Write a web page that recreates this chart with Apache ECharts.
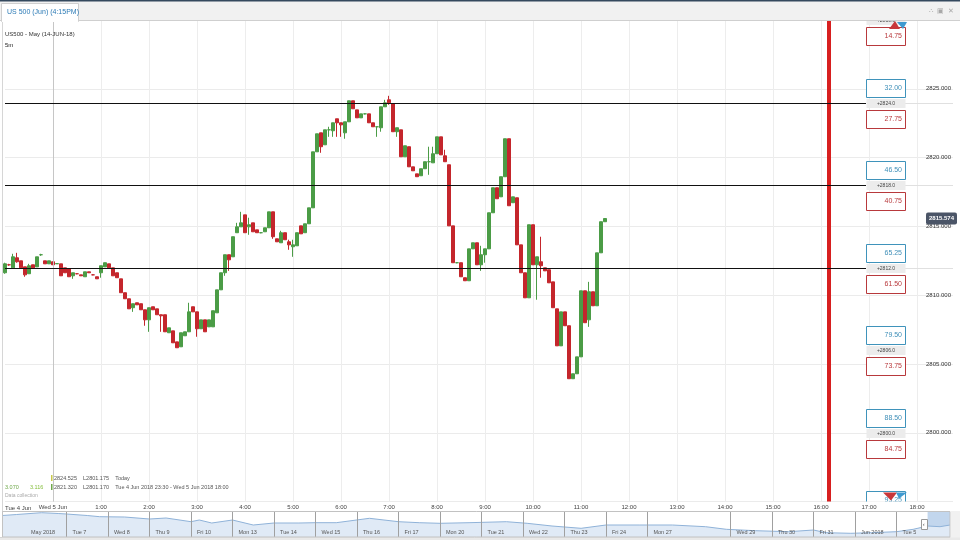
<!DOCTYPE html>
<html><head><meta charset="utf-8">
<script src="https://cdn.jsdelivr.net/npm/echarts@6/dist/echarts.min.js"></script>
<style>html,body{margin:0;padding:0;background:#fff}#c{width:960px;height:540px}</style>
</head><body><div id="c"></div>
<script>
// ---------- data ----------
const firstSlot = '23:00';          // first 5m slot (Tue 4 Jun)
const slotCount = 238;              // 5-minute slots shown on the axis
const dayBreak = '0:00';            // Wed 5 Jun
const closeTime = '16:10';          // session close marker
const ohlc = [ // [open, close, low, high]
[2811.63,2812.28,2811.56,2812.36],[2812.21,2812.21,2812.14,2812.28],[2811.99,2812.79,2811.99,2813.01],[2812.72,2812.43,2812.36,2813.08],
[2812.50,2811.99,2811.99,2812.50],[2812.06,2811.48,2811.34,2812.06],[2811.56,2812.14,2811.56,2812.28],[2812.21,2811.99,2811.99,2812.21],
[2812.06,2812.79,2812.06,2812.79],[2812.94,2812.94,2812.86,2813.01],[2812.50,2812.28,2812.28,2812.50],[2812.28,2812.50,2812.28,2812.50],
[2812.43,2812.21,2812.21,2812.43],[2812.28,2812.30,2812.28,2812.30],[2812.28,2811.41,2811.41,2812.28],[2811.99,2811.63,2811.63,2811.99],
[2811.92,2811.34,2811.34,2811.92],[2811.41,2811.63,2811.19,2811.63],[2811.56,2811.56,2811.52,2811.60],[2811.48,2811.41,2811.41,2811.48],
[2811.34,2811.70,2811.34,2811.70],[2811.70,2811.63,2811.63,2811.70],[2811.48,2811.48,2811.45,2811.52],[2811.34,2811.19,2811.19,2811.34],
[2811.63,2812.14,2811.27,2812.14],[2812.06,2812.36,2812.06,2812.36],[2812.28,2811.99,2811.99,2812.28],[2811.99,2811.41,2811.41,2811.99],
[2811.63,2811.27,2811.27,2811.63],[2811.19,2810.18,2810.18,2811.19],[2810.18,2809.74,2809.74,2810.18],[2809.74,2809.01,2809.01,2809.74],
[2809.09,2809.38,2808.79,2809.38],[2809.45,2809.30,2809.30,2809.45],[2809.38,2808.94,2808.94,2809.38],[2808.94,2808.21,2807.78,2808.94],
[2808.21,2809.09,2807.34,2809.09],[2809.16,2808.94,2808.94,2809.16],[2809.01,2808.58,2808.58,2809.01],[2808.58,2808.50,2807.34,2808.58],
[2808.58,2807.34,2807.34,2808.58],[2807.27,2807.63,2807.27,2807.63],[2807.41,2806.54,2806.54,2807.41],[2806.61,2806.18,2806.18,2806.61],
[2806.25,2807.27,2806.25,2807.27],[2807.05,2807.34,2807.05,2807.34],[2807.34,2808.79,2807.34,2809.45],[2809.16,2808.79,2808.79,2809.16],
[2808.79,2807.56,2806.98,2808.79],[2807.56,2808.21,2807.56,2808.21],[2808.21,2807.34,2807.34,2808.21],[2807.70,2808.21,2807.70,2808.21],
[2807.70,2808.87,2807.70,2808.87],[2808.72,2810.39,2808.72,2810.39],[2810.39,2811.63,2810.39,2811.63],[2811.63,2812.94,2811.41,2812.94],
[2812.94,2812.57,2811.77,2812.94],[2812.79,2814.25,2812.79,2814.25],[2814.54,2814.97,2814.54,2815.26],[2814.97,2815.26,2814.97,2816.06],
[2815.84,2814.54,2814.54,2815.84],[2814.97,2815.12,2814.39,2815.63],[2815.26,2814.61,2814.61,2815.26],[2814.75,2814.54,2814.54,2814.75],
[2814.54,2814.54,2814.50,2814.58],[2814.61,2814.90,2814.61,2814.90],[2814.90,2816.06,2814.90,2816.06],[2816.06,2814.25,2814.10,2816.06],
[2814.10,2813.88,2813.88,2814.10],[2813.81,2814.54,2813.81,2814.68],[2814.54,2814.03,2814.03,2814.54],[2813.88,2813.66,2813.30,2814.03],
[2813.52,2813.66,2812.79,2814.03],[2813.59,2814.54,2813.59,2814.54],[2815.04,2814.46,2814.46,2815.04],[2814.54,2815.19,2814.54,2815.19],
[2815.19,2816.35,2815.19,2816.35],[2816.35,2820.42,2816.35,2820.42],[2820.42,2821.73,2820.42,2821.73],[2821.80,2820.79,2820.35,2821.80],
[2820.93,2822.02,2820.93,2822.02],[2822.02,2822.02,2821.51,2822.24],[2821.95,2822.53,2821.51,2822.53],[2822.82,2822.53,2821.51,2822.82],
[2822.53,2822.38,2821.51,2822.53],[2821.80,2822.60,2821.37,2822.60],[2822.60,2824.13,2822.60,2824.13],[2824.13,2823.55,2823.55,2824.13],
[2823.47,2822.89,2822.89,2823.47],[2822.89,2823.18,2822.89,2823.18],[2823.18,2823.18,2823.14,2823.22],[2823.18,2822.53,2822.53,2823.18],
[2822.53,2822.24,2822.24,2822.53],[2822.24,2822.24,2821.51,2822.24],[2822.17,2823.69,2821.88,2823.69],[2823.69,2823.98,2823.69,2824.20],
[2824.20,2823.98,2823.84,2824.49],[2823.91,2821.88,2821.88,2823.91],[2821.88,2822.17,2821.51,2822.17],[2822.02,2820.06,2820.06,2822.02],
[2820.06,2820.86,2820.06,2820.86],[2820.79,2819.33,2819.33,2820.79],[2819.33,2819.04,2819.04,2819.33],[2818.82,2818.61,2818.61,2818.82],
[2818.68,2819.19,2818.68,2819.19],[2819.19,2819.70,2819.19,2819.70],[2819.70,2819.70,2818.75,2820.79],[2819.62,2820.28,2819.62,2820.79],
[2820.28,2821.51,2820.28,2821.51],[2821.51,2820.20,2820.20,2821.51],[2820.13,2819.70,2819.70,2820.57],[2819.48,2815.04,2815.04,2819.48],
[2815.04,2812.36,2812.36,2815.04],[2812.36,2812.36,2812.32,2812.40],[2812.36,2811.34,2811.34,2812.36],[2811.27,2811.05,2811.05,2811.27],
[2811.05,2813.37,2811.05,2813.37],[2813.37,2813.81,2813.37,2813.81],[2813.81,2812.21,2812.21,2813.81],[2812.21,2812.94,2811.77,2813.59],
[2812.94,2813.37,2812.36,2813.37],[2813.37,2815.99,2813.37,2815.99],[2815.99,2817.81,2815.99,2817.81],[2817.81,2817.01,2817.01,2817.81],
[2817.15,2818.61,2817.15,2818.61],[2818.61,2821.37,2818.61,2821.37],[2821.37,2816.50,2816.50,2821.37],[2816.72,2817.15,2816.72,2817.15],
[2817.08,2813.66,2813.66,2817.08],[2813.66,2811.63,2811.63,2813.66],[2811.63,2809.81,2809.81,2811.63],[2809.81,2815.12,2809.81,2815.12],
[2815.12,2812.21,2812.21,2815.12],[2812.21,2812.79,2809.67,2812.79],[2812.43,2812.14,2811.27,2814.25],[2811.99,2811.77,2811.77,2811.99],
[2811.85,2810.90,2810.90,2811.85],[2810.97,2809.09,2809.09,2810.97],[2809.01,2806.32,2806.32,2809.01],[2806.32,2808.79,2806.32,2808.79],
[2808.79,2807.78,2807.78,2808.79],[2807.78,2803.93,2803.93,2807.78],[2803.93,2804.29,2803.93,2804.29],[2804.29,2805.52,2804.29,2805.52],
[2805.52,2810.32,2805.52,2810.32],[2810.32,2808.00,2808.00,2810.32],[2808.21,2810.25,2807.70,2810.97],[2810.25,2809.23,2809.23,2810.25],
[2809.23,2813.08,2809.23,2813.08],[2813.08,2815.34,2813.08,2815.34],[2815.34,2815.574,2815.34,2815.574]
];
const priceMin = 2795, priceMax = 2830, priceStep = 5;
const lineLevels = [2824, 2818, 2812];
const ladderLevels = [2830, 2824, 2818, 2812, 2806, 2800, 2794];
const ladderBid = ['', '32.00', '46.50', '65.25', '79.50', '88.50', '93.25'];
const ladderAsk = ['14.75', '27.75', '40.75', '61.50', '73.75', '84.75', ''];
// navigator (overview) : day positions and levels
const navDays = ['', 'May 2018', 'Tue 7', 'Wed 8', 'Thu 9', 'Fri 10', 'Mon 13', 'Tue 14', 'Wed 15', 'Thu 16', 'Fri 17',
  'Mon 20', 'Tue 21', 'Wed 22', 'Thu 23', 'Fri 24', 'Mon 27', '', 'Wed 29', 'Thu 30', 'Fri 31', 'Jun 2018', 'Tue 5', ''];
const navX = [0.45,0.8,1.4,1.8,2.0,2.5,2.8,3.4,4.0,4.4,5.0,5.2,5.5,6.0,6.5,7.0,7.6,8.0,8.5,9.3,10.0,10.5,11.0,11.7,12.6,13.1,13.7,14.4,15.0,15.8,16.6,17.4,17.9,18.6,19.4,20.0,20.3,20.9,21.4,22.0,22.4,22.75,23.05,23.29];
const navY = [2749,2755,2765.8,2761,2758,2749,2741.8,2740,2728,2734,2711.8,2722,2704,2722,2692,2704,2704,2705.8,2705.8,2732.2,2711.8,2705.8,2702.2,2705.8,2711.8,2702.2,2686,2672.2,2692,2692,2692,2681.8,2666.2,2657.8,2651.8,2662,2645.8,2642.2,2645.8,2651.8,2666,2686,2681.8,2692];
const navWindow = [22.75, 23.29];

// ---------- build ----------
const times = [];
(function(){
  const [h0, m0] = firstSlot.split(':').map(Number);
  for (let i = 0; i < slotCount; i++) {
    const m = (h0 * 60 + m0 + i * 5) % 1440;
    times.push(Math.floor(m / 60) + ':' + String(m % 60).padStart(2, '0'));
  }
})();
const isHour = (i, v) => /:00$/.test(v) && v !== firstSlot;
const UP = '#4b9c46', DOWN = '#c4262c';
const FONT = 'Liberation Sans, Arial, sans-serif';
const lastIdx = ohlc.length - 1;
const lastClose = ohlc[lastIdx][1];
const navSepColors = navDays.map((d, n) => (d && n > 1) ? '#a0a0a0' : 'rgba(0,0,0,0)');

const chart = echarts.init(document.getElementById('c'), null, {renderer: 'canvas'});
const txt = (x, y, s, size, fill, extra) => Object.assign({type: 'text', x, y, z: 110, silent: true,
  style: Object.assign({text: s, fontSize: size, fontFamily: FONT, fill, verticalAlign: 'middle'}, extra || {})});

chart.setOption({
  animation: false,
  backgroundColor: '#fff',
  grid: [
    {left: 5, right: 7, top: 20, height: 481.6, outerBoundsMode: 'none', containLabel: false},
    {left: -16.5, right: 10, top: 512, height: 25, outerBoundsMode: 'none', containLabel: false}
  ],
  xAxis: [
    {type: 'category', gridIndex: 0, data: times, boundaryGap: false,
     axisLine: {show: false}, axisTick: {show: false},
     axisLabel: {interval: isHour, margin: 3, fontSize: 6, color: '#444', fontFamily: FONT,
       formatter: v => v === dayBreak ? 'Wed 5 Jun' : v},
     splitLine: {show: true, interval: isHour, lineStyle: {color: '#ededed', width: 1}}},
    {type: 'value', gridIndex: 1, min: 0, max: 23.29, interval: 1, z: 10,
     axisLine: {show: true, lineStyle: {color: '#bdbdbd'}}, axisTick: {show: false},
     axisLabel: {inside: true, margin: 2, fontSize: 5.5, color: '#555', fontFamily: FONT, align: 'left', padding: [0, 0, 0, 6],
       showMaxLabel: false, showMinLabel: true, hideOverlap: false, formatter: v => navDays[v] || ''},
     splitLine: {show: true, showMinLine: true, showMaxLine: false, lineStyle: {color: navSepColors, width: 1}}}
  ],
  yAxis: [
    {type: 'value', gridIndex: 0, position: 'right', min: priceMin, max: priceMax, interval: priceStep,
     axisLine: {show: false}, axisTick: {show: false},
     axisLabel: {inside: true, margin: 2, fontSize: 6, color: '#333', fontFamily: FONT,
       showMinLabel: false, showMaxLabel: false, formatter: v => v.toFixed(3)},
     splitLine: {show: true, lineStyle: {color: '#ebebeb', width: 1}}},
    {type: 'value', gridIndex: 1, min: 2620, max: 2770, show: false, splitLine: {show: false}}
  ],
  series: [
    {type: 'candlestick', xAxisIndex: 0, yAxisIndex: 0, data: ohlc, barWidth: 3.4, clip: false,
     itemStyle: {color: UP, color0: DOWN, borderColor: UP, borderColor0: DOWN, borderWidth: 1},
     markLine: {silent: true, symbol: ['none', 'none'], label: {show: false}, animation: false,
       data: [
         {xAxis: dayBreak, lineStyle: {color: '#c6c6c6', width: 1, type: 'solid'}},
         {xAxis: closeTime, lineStyle: {color: '#d71f1f', width: 4, type: 'solid'}}
       ]}},
    {type: 'custom', xAxisIndex: 0, yAxisIndex: 0, clip: true, silent: true, z: 5,
     data: ladderLevels.map((v, i) => [0, v, i]), encode: {x: 0, y: 1},
     renderItem: function (params, api) {
       const i = api.value(2), level = api.value(1);
       const cs = params.coordSys;
       const y = Math.round(api.coord([0, level])[1]) + 0.5;
       const right = cs.x + cs.width - 48, w = 39, left = right - w;
       const ch = [];
       if (lineLevels.indexOf(level) >= 0) {
         ch.push({type: 'line', shape: {x1: cs.x - 2, y1: y, x2: left, y2: y}, style: {stroke: '#111', lineWidth: 1}});
         ch.push({type: 'line', shape: {x1: right, y1: y, x2: cs.x + cs.width, y2: y}, style: {stroke: '#e0e0e0', lineWidth: 1}});
       }
       ch.push({type: 'rect', shape: {x: left + 0.5, y: y - 24, width: w, height: 18}, style: {fill: '#fff', stroke: '#3f93bb', lineWidth: 1}});
       ch.push({type: 'text', x: right - 3, y: y - 15, style: {text: ladderBid[i], fill: '#3f8fb8', fontSize: 7, fontFamily: FONT, align: 'right', verticalAlign: 'middle'}});
       ch.push({type: 'rect', shape: {x: left + 0.5, y: y - 4.5, width: w, height: 9}, style: {fill: '#ececec'}});
       ch.push({type: 'text', x: left + 20, y: y, style: {text: '+' + level.toFixed(1), fill: '#444', fontSize: 5, fontFamily: FONT, align: 'center', verticalAlign: 'middle'}});
       ch.push({type: 'rect', shape: {x: left + 0.5, y: y + 7, width: w, height: 18}, style: {fill: '#fff', stroke: '#b8393c', lineWidth: 1}});
       ch.push({type: 'text', x: right - 3, y: y + 16, style: {text: ladderAsk[i], fill: '#b8393c', fontSize: 7, fontFamily: FONT, align: 'right', verticalAlign: 'middle'}});
       const top = cs.y, bot = cs.y + cs.height;
       if (y - 24 < top) {
         ch.push({type: 'polygon', shape: {points: [[left + 23, top + 9], [left + 29, top + 1], [left + 34, top + 9]]}, style: {fill: '#c8373a'}});
         ch.push({type: 'polygon', shape: {points: [[left + 31, top + 2], [left + 41, top + 2], [left + 37, top + 9]]}, style: {fill: '#3f9ad0'}});
       }
       if (y + 4 > bot) {
         ch.push({type: 'polygon', shape: {points: [[left + 17, bot - 9], [left + 31, bot - 9], [left + 25, bot - 1]]}, style: {fill: '#c8373a'}});
         ch.push({type: 'polygon', shape: {points: [[left + 30, bot - 9], [left + 41, bot - 9], [left + 33, bot - 3]]}, style: {fill: '#3f9ad0'}});
       }
       return {type: 'group', children: ch};
     }},
    {type: 'custom', xAxisIndex: 0, yAxisIndex: 0, clip: false, silent: true, z: 20,
     data: [[lastIdx, lastClose]], encode: {x: 0, y: 1},
     renderItem: function (params, api) {
       const cs = params.coordSys;
       const v = api.value(1);
       const y = api.coord([0, v])[1];
       const r = cs.x + cs.width + 4;
       return {type: 'group', children: [
         {type: 'rect', shape: {x: r - 31, y: y - 6, width: 31, height: 12, r: 2}, style: {fill: '#4b5567'}},
         {type: 'text', x: r - 15.5, y: y, style: {text: v.toFixed(3), fill: '#fff', fontSize: 6, fontWeight: 'bold', fontFamily: FONT, align: 'center', verticalAlign: 'middle'}}
       ]};
     }},
    {type: 'line', xAxisIndex: 1, yAxisIndex: 1, data: navX.map((x, i) => [x, navY[i]]), symbol: 'none', silent: true, z: 2,
     lineStyle: {color: '#8fb2d8', width: 1}, areaStyle: {color: '#e0eaf6', opacity: 1},
     markArea: {silent: true, itemStyle: {color: 'rgba(120,165,215,0.45)'}, data: [[{xAxis: navWindow[0]}, {xAxis: navWindow[1]}]]}}
  ],
  graphic: [
    // header / tab bar
    {type: 'rect', z: 100, silent: true, shape: {x: 0, y: 0, width: 960, height: 21}, style: {fill: '#f1f1f1'}},
    {type: 'rect', z: 100, silent: true, shape: {x: 0, y: 0, width: 960, height: 1.5}, style: {fill: '#34495e'}},
    {type: 'line', z: 100, silent: true, shape: {x1: 0, y1: 20.5, x2: 960, y2: 20.5}, style: {stroke: '#cfcfcf', lineWidth: 1}},
    {type: 'rect', z: 101, silent: true, shape: {x: 1.5, y: 3.5, width: 77, height: 18}, style: {fill: '#fff', stroke: '#cfcfcf', lineWidth: 1}},
    {type: 'rect', z: 102, silent: true, shape: {x: 2, y: 20, width: 76, height: 2}, style: {fill: '#fff'}},
    txt(7, 12, 'US 500 (Jun) (4:15PM)', 7, '#2c7bb6', {}),
    txt(929, 11, '\u2234  \u25A3  \u2715', 7, '#a8a8a8', {}),
    // chart header text
    txt(5, 34, 'US500 - May (14-JUN-18)', 6, '#333', {}),
    txt(5, 45, '5m', 6, '#222', {}),
    // left border
    {type: 'line', z: 100, silent: true, shape: {x1: 2.5, y1: 21, x2: 2.5, y2: 537}, style: {stroke: '#d6d6d6', lineWidth: 1}},
    // first day label on axis
    txt(5, 508, 'Tue 4 Jun', 6, '#444', {}),
    // info lines
    {type: 'rect', z: 100, silent: true, shape: {x: 51, y: 475, width: 1.5, height: 6}, style: {fill: '#c9c94a'}},
    txt(54, 478, '2824.525    L2801.175    Today', 5.5, '#555', {}),
    txt(5, 487, '3.070', 5.5, '#6fa84a', {}),
    txt(30, 487, '3.116', 5.5, '#86bf3e', {}),
    {type: 'rect', z: 100, silent: true, shape: {x: 51, y: 484, width: 1.5, height: 6}, style: {fill: '#6fa84a'}},
    txt(54, 487, '2821.320    L2801.170    Tue 4 Jun 2018 23:30 - Wed 5 Jun 2018 18:00', 5.5, '#555', {}),
    txt(5, 496, 'Data collection', 5, '#aaa', {}),
    // navigator frame
    {type: 'rect', z: 100, silent: true, shape: {x: 2.5, y: 511.5, width: 947.5, height: 25.5}, style: {fill: 'none', stroke: '#c2c2c2', lineWidth: 1}},
    {type: 'rect', z: 100, silent: true, shape: {x: 951, y: 511, width: 9, height: 29}, style: {fill: '#f1f1f1'}},
    {type: 'rect', z: 100, silent: true, shape: {x: 0, y: 537.5, width: 960, height: 3}, style: {fill: '#e9e9e9'}},
    {type: 'rect', z: 101, silent: true, shape: {x: 921.5, y: 519.5, width: 6, height: 10}, style: {fill: '#fff', stroke: '#999', lineWidth: 1}},
    txt(922.8, 524.5, '\u2039', 6, '#555', {})
  ]
});
</script></body></html>
